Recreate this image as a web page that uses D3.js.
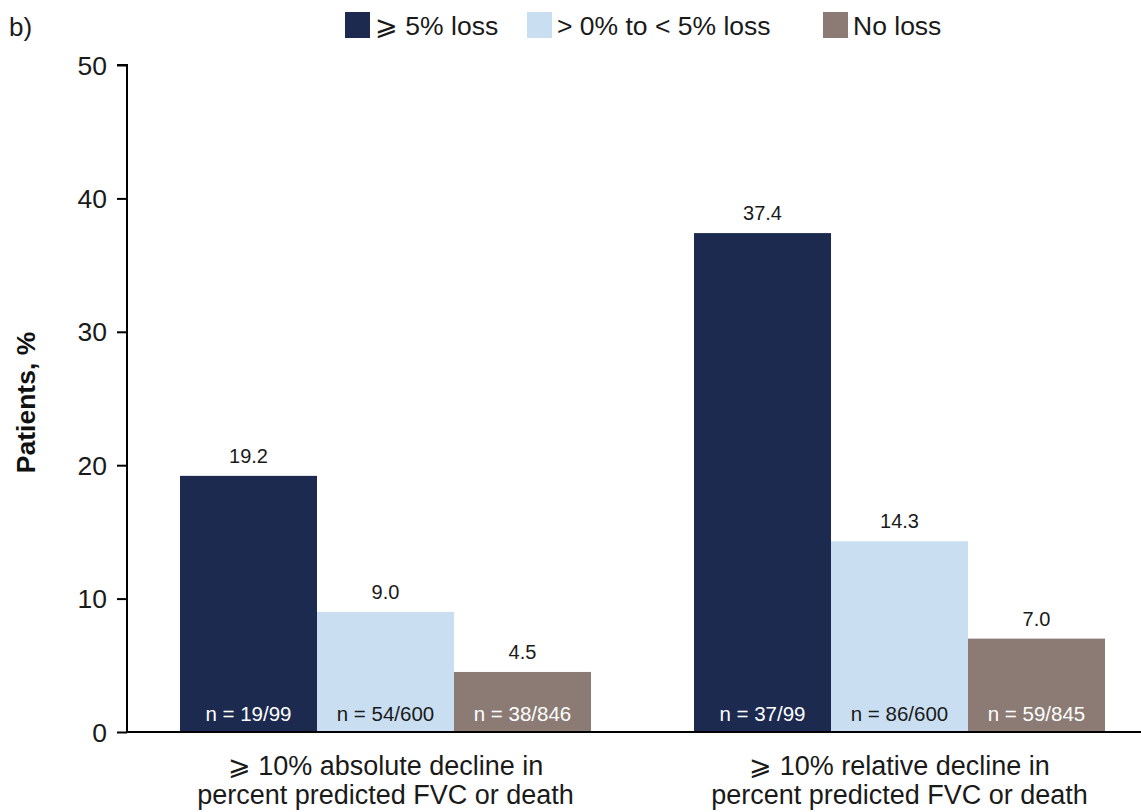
<!DOCTYPE html>
<html>
<head>
<meta charset="utf-8">
<script src="https://cdn.jsdelivr.net/npm/d3@7"></script>
<style>
  html, body { margin: 0; padding: 0; background: #fff; }
  svg { display: block; font-family: "Liberation Sans", Arial, sans-serif; }
</style>
</head>
<body>
<svg id="chart" width="1141" height="812"></svg>
<script>
// Outcome groups along the x axis (two-line labels)
const categories = [
  ["\u2A7E 10% absolute decline in", "percent predicted FVC or death"],
  ["\u2A7E 10% relative decline in", "percent predicted FVC or death"]
];
// Weight-loss subgroups (series)
const seriesNames = ["\u2A7E 5% loss", "> 0% to < 5% loss", "No loss"];
const seriesColors = ["#1b2a4e", "#c9dff1", "#8b7b74"];
const nLabelColors = ["#ffffff", "#1a1a1a", "#ffffff"];
// Percent of patients per group, one array per series
const lossGE5 = [19.2, 37.4];
const loss0to5 = [9.0, 14.3];
const noLoss = [4.5, 7.0];
// Counts shown inside each bar
const nLossGE5 = ["n = 19/99", "n = 37/99"];
const nLoss0to5 = ["n = 54/600", "n = 86/600"];
const nNoLoss = ["n = 38/846", "n = 59/845"];
const yTicks = [0, 10, 20, 30, 40, 50];

const values = [lossGE5, loss0to5, noLoss];
const nLabels = [nLossGE5, nLoss0to5, nNoLoss];

const svg = d3.select("#chart");
const axisX = 127, y0 = 732, yTop = 65;

const y = d3.scaleLinear().domain([0, 50]).range([y0, yTop]);
// group offsets and bar bands within a group
const groupScale = d3.scaleOrdinal().domain([0, 1]).range([180, 694]);
const x1 = d3.scaleBand().domain([0, 1, 2]).range([0, 411]).padding(0);

// y axis
const yAxis = d3.axisLeft(y).tickValues(yTicks).tickSize(10).tickPadding(10).tickFormat(d3.format("d"));
const gy = svg.append("g").attr("transform", `translate(${axisX},0)`).call(yAxis);
gy.select(".domain").attr("stroke", "#000").attr("stroke-width", 2).attr("d", `M-10,${yTop}H0V${y0}`);
gy.selectAll(".tick line").attr("stroke", "#000").attr("stroke-width", 2);
gy.selectAll(".tick text").attr("font-size", 26.5).attr("fill", "#1a1a1a").attr("dy", "0.34em")
  .attr("font-family", "Liberation Sans, Arial, sans-serif");

// y title
svg.append("text")
  .attr("transform", `translate(35,${(y0 + yTop) / 2 + 4}) rotate(-90)`)
  .attr("text-anchor", "middle")
  .attr("font-size", 26.5).attr("font-weight", "bold").attr("fill", "#111")
  .text("Patients, %");

// bars
const groups = svg.append("g").selectAll("g").data(categories).join("g")
  .attr("transform", (d, i) => `translate(${groupScale(i)},0)`);

groups.each(function (cat, gi) {
  const g = d3.select(this);
  seriesNames.forEach((s, si) => {
    const v = values[si][gi];
    g.append("rect")
      .attr("x", x1(si)).attr("width", x1.bandwidth())
      .attr("y", y(v)).attr("height", y0 - y(v))
      .attr("fill", seriesColors[si]);
    g.append("text")
      .attr("x", x1(si) + x1.bandwidth() / 2).attr("y", y(v) - 13)
      .attr("text-anchor", "middle").attr("font-size", 20).attr("fill", "#1a1a1a")
      .text(v.toFixed(1));
    g.append("text")
      .attr("x", x1(si) + x1.bandwidth() / 2).attr("y", 721)
      .attr("text-anchor", "middle").attr("font-size", 20.5).attr("fill", nLabelColors[si])
      .text(nLabels[si][gi]);
  });
  // category label
  const t = g.append("text").attr("text-anchor", "middle").attr("font-size", 27).attr("fill", "#1a1a1a");
  cat.forEach((line, li) => {
    t.append("tspan").attr("x", x1.range()[1] / 2).attr("y", 775 + li * 29).text(line);
  });
});

// x axis baseline
svg.append("line").attr("x1", axisX - 1).attr("x2", 1141).attr("y1", y0).attr("y2", y0)
  .attr("stroke", "#000").attr("stroke-width", 2);

// panel label
svg.append("text").attr("x", 9).attr("y", 36).attr("font-size", 26).attr("fill", "#1a1a1a").text("b)");

// legend
const legendX = [345, 527, 823];
const lg = svg.append("g");
seriesNames.forEach((s, i) => {
  lg.append("rect").attr("x", legendX[i]).attr("y", 12).attr("width", 25).attr("height", 26)
    .attr("fill", seriesColors[i]);
  lg.append("text").attr("x", legendX[i] + 30).attr("y", 35).attr("font-size", 26.5).attr("fill", "#1a1a1a")
    .text(s);
});
</script>
</body>
</html>
